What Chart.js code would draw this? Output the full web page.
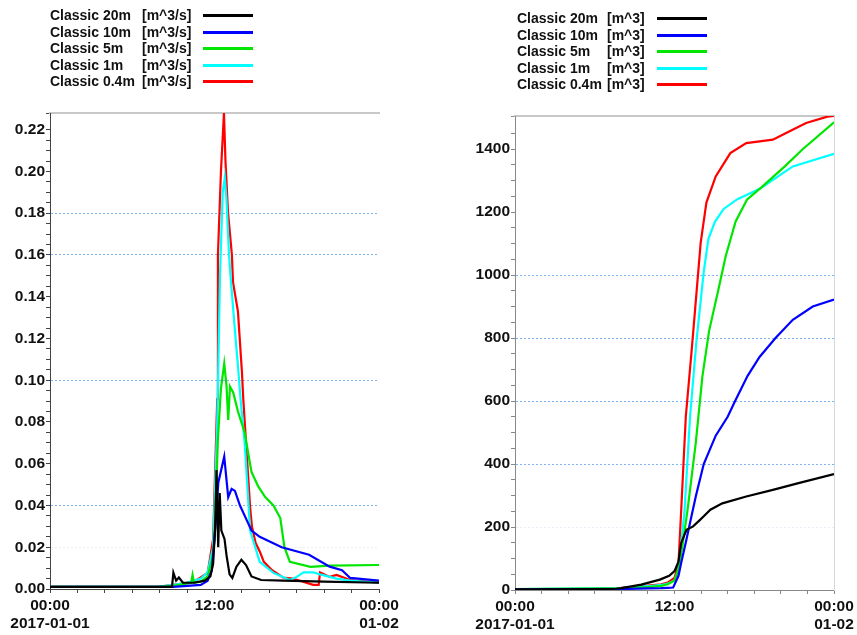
<!DOCTYPE html>
<html><head><meta charset="utf-8">
<script src="https://cdn.jsdelivr.net/npm/chart.js@4.4.1/dist/chart.umd.min.js"></script>
<style>
html,body{margin:0;padding:0;background:#fff;}
body{width:857px;height:635px;position:relative;overflow:hidden;font-family:"Liberation Sans",Arial,sans-serif;}
.box{position:absolute;top:0;height:635px;}
.legend{position:absolute;font-weight:bold;font-size:14px;color:#111;}
.row{position:absolute;left:0;height:16px;line-height:16px;white-space:nowrap;}
.row span{position:absolute;top:0;}
.row i{position:absolute;top:7px;height:3px;width:50px;}
</style></head>
<body>
<div class="box" style="left:0;width:430px"><canvas id="c1"></canvas></div>
<div class="box" style="left:460px;width:397px"><canvas id="c2"></canvas></div>
<div id="lg1" class="legend" style="left:50px;top:7px;width:220px;height:90px"></div>
<div id="lg2" class="legend" style="left:517px;top:10px;width:220px;height:90px"></div>
<script>
// ---- categories / labels ----
const seriesNames = ['Classic 20m', 'Classic 10m', 'Classic 5m', 'Classic 1m', 'Classic 0.4m'];
const unitQ = '[m^3/s]';
const unitV = '[m^3]';
const xTickLabels = {0: ['00:00', '2017-01-01'], 12: '12:00', 24: ['00:00', '01-02']};

// ---- discharge [m^3/s], time in hours from 2017-01-01 00:00 ----
const tQ20 = [0, 4, 8.9, 9.0, 9.2, 9.4, 9.7, 10.5, 11.3, 11.7, 11.9, 12.05, 12.15, 12.27, 12.38, 12.5, 12.73, 12.88, 13.1, 13.3, 13.6, 13.96, 14.3, 14.7, 15.4, 17, 20, 24];
const q20  = [0.001, 0.001, 0.001, 0.0078, 0.004, 0.0055, 0.003, 0.003, 0.004, 0.006, 0.012, 0.030, 0.057, 0.020, 0.046, 0.028, 0.024, 0.016, 0.007, 0.0053, 0.0107, 0.014, 0.0115, 0.006, 0.0043, 0.004, 0.0035, 0.003];
const tQ10 = [0, 9, 10, 11, 11.5, 11.8, 12.0, 12.28, 12.71, 12.88, 13.0, 13.25, 13.49, 13.86, 14.35, 14.7, 15.3, 16.9, 18.9, 20.4, 21.3, 21.9, 24];
const q10  = [0.001, 0.001, 0.0015, 0.002, 0.004, 0.009, 0.024, 0.051, 0.0634, 0.052, 0.044, 0.048, 0.047, 0.040, 0.033, 0.028, 0.025, 0.020, 0.0164, 0.0107, 0.009, 0.0053, 0.004];
const tQ5  = [0, 8, 9, 10.3, 10.4, 10.5, 11, 11.5, 11.85, 12.0, 12.25, 12.47, 12.71, 12.88, 13.0, 13.13, 13.37, 13.71, 14.2, 14.7, 15.2, 15.7, 16.3, 16.8, 17.1, 17.5, 19.0, 20.4, 24];
const q5   = [0.001, 0.001, 0.0015, 0.003, 0.0067, 0.003, 0.0035, 0.006, 0.015, 0.024, 0.072, 0.096, 0.108, 0.097, 0.081, 0.097, 0.094, 0.085, 0.075, 0.056, 0.049, 0.044, 0.040, 0.034, 0.020, 0.013, 0.0106, 0.0112, 0.0115];
const tQ1  = [0, 8, 9, 10, 11, 11.5, 11.9, 12.2, 12.4, 12.6, 12.75, 12.87, 13.06, 13.18, 13.5, 13.71, 13.9, 14.2, 14.6, 15.3, 16.3, 17.5, 18.0, 18.5, 19.2, 19.7, 20.9, 21.9, 24];
const q1   = [0.001, 0.0012, 0.002, 0.003, 0.005, 0.008, 0.02, 0.08, 0.15, 0.19, 0.197, 0.187, 0.16, 0.149, 0.123, 0.107, 0.091, 0.07, 0.028, 0.013, 0.0077, 0.0043, 0.0058, 0.008, 0.008, 0.007, 0.005, 0.004, 0.003];
const tQ04 = [0, 4, 8, 9, 10, 10.5, 11.5, 11.9, 12.2, 12.25, 12.47, 12.69, 12.8, 12.98, 13.27, 13.35, 13.71, 14.0, 14.1, 14.3, 14.6, 14.73, 15.0, 15.3, 15.6, 16.2, 17.0, 17.7, 19.2, 19.6, 19.7, 20.4, 20.9, 21.9, 24];
const q04  = [0.001, 0.001, 0.0012, 0.002, 0.003, 0.0035, 0.0077, 0.024, 0.091, 0.16, 0.20, 0.228, 0.205, 0.181, 0.16, 0.147, 0.133, 0.104, 0.091, 0.07, 0.039, 0.030, 0.022, 0.018, 0.013, 0.009, 0.0055, 0.005, 0.002, 0.002, 0.008, 0.0058, 0.0067, 0.0043, 0.003];

// ---- cumulative volume [m^3] ----
const tV20 = [0, 6, 7.6, 8, 9.5, 10.9, 11.6, 12.0, 12.3, 12.5, 12.9, 13.4, 13.9, 14.2, 14.7, 15.6, 17.4, 19.4, 21.4, 24];
const v20  = [2, 3, 4, 6, 17, 33, 45, 60, 90, 149, 191, 202, 222, 234, 255, 275, 297, 318, 340, 368];
const tV10 = [0, 8, 10, 11, 11.5, 11.9, 12.3, 12.5, 12.9, 13.1, 13.6, 14.2, 15.1, 16.0, 16.56, 17.5, 18.4, 19.6, 20.9, 22.4, 24];
const v10  = [2, 3, 5, 6, 7, 8, 45, 86, 160, 200, 297, 400, 490, 550, 600, 680, 740, 800, 858, 900, 922];
const tV5  = [0, 8, 10, 11, 11.5, 12, 12.3, 12.6, 13.0, 13.6, 14.1, 14.6, 15.3, 15.85, 16.6, 17.45, 18.6, 20.3, 21.6, 24];
const v5   = [3, 5, 9, 13, 18, 30, 70, 140, 260, 467, 678, 822, 953, 1060, 1170, 1239, 1281, 1345, 1398, 1485];
const tV1  = [0, 8, 10, 11, 11.5, 12, 12.3, 12.75, 13.17, 13.65, 14.2, 14.55, 15.05, 15.7, 16.7, 18.45, 20.9, 24];
const v1   = [3, 6, 12, 16, 20, 30, 60, 250, 550, 790, 1010, 1115, 1170, 1210, 1240, 1275, 1345, 1385];
const tV04 = [0, 6, 8, 10, 11, 11.5, 12, 12.3, 12.5, 12.85, 13.33, 13.97, 14.4, 15.1, 16.2, 17.4, 19.4, 20.4, 21.9, 23.5, 24];
const v04  = [3, 4, 7, 14, 18, 24, 38, 85, 250, 550, 780, 1103, 1230, 1313, 1387, 1419, 1430, 1451, 1483, 1503, 1505];

// ---- styling ----
const colors = ['#000000', '#0000ff', '#00e600', '#00ffff', '#ff0000'];
const FONT = '"Liberation Sans", Arial, sans-serif';

function pts(t, v) { return t.map((x, i) => ({x: x, y: v[i]})); }
function near(v, list, tol) { return list.some(a => Math.abs(a - v) < tol); }

function buildLegend(id, unit, unitLeft, sampleLeft) {
  const el = document.getElementById(id);
  seriesNames.forEach((n, i) => {
    const r = document.createElement('div');
    r.className = 'row';
    r.style.top = (i * 16.5) + 'px';
    r.innerHTML = '<span style="left:0">' + n + '</span><span style="left:' + unitLeft + 'px">' + unit + '</span>' +
      '<i style="left:' + sampleLeft + 'px;background:' + colors[i] + '"></i>';
    el.appendChild(r);
  });
}

function build(id, series, cfg) {
  const datasets = series.map((s, i) => ({
    label: seriesNames[i] + ' ' + cfg.unit,
    data: pts(s[0], s[1]),
    borderColor: colors[i], backgroundColor: colors[i],
    borderWidth: 2.2, pointRadius: 0, fill: false, tension: 0,
    xAxisID: 'x', yAxisID: 'y'
  }));
  const tickFont = {family: FONT, size: 15.5, weight: 'bold'};
  const scales = {
    x: {
      type: 'linear', position: 'bottom', min: 0, max: 24,
      afterFit: s => { s.height = cfg.xh; },
      ticks: {stepSize: 2, autoSkip: false, maxRotation: 0, minRotation: 0, padding: 3, color: '#111', font: tickFont,
        callback: v => (xTickLabels[v] !== undefined ? xTickLabels[v] : '')},
      grid: {drawOnChartArea: false, drawTicks: true, tickLength: 4, color: cfg.axisColor},
      border: {color: cfg.axisColor, width: 1}
    },
    xTop: {
      type: 'linear', position: 'top', min: 0, max: 24,
      afterFit: s => { s.height = 0; },
      ticks: {display: false}, grid: {display: false},
      border: {color: '#c8c8c8', width: 2}
    },
    y: {
      type: 'linear', position: 'left', min: 0, max: cfg.max,
      afterFit: s => { s.width = cfg.yw; },
      ticks: {stepSize: cfg.step, autoSkip: false, padding: 1, color: '#111', font: tickFont,
        callback: v => {
          const r = v / cfg.major;
          if (Math.abs(r - Math.round(r)) < 1e-6 && v <= cfg.max - cfg.step * 0.5) return v.toFixed(cfg.dec);
          return '';
        }},
      grid: {drawTicks: true, tickLength: 4, tickColor: cfg.axisColor, lineWidth: 1,
        color: ctx => {
          const v = ctx.tick ? ctx.tick.value : null;
          if (v === null) return 'rgba(0,0,0,0)';
          if (near(v, cfg.blue, cfg.step * 0.1)) return '#7fb3ee';
          if (near(v, cfg.faint, cfg.step * 0.1)) return '#e9eff8';
          return 'rgba(0,0,0,0)';
        }},
      border: {color: cfg.axisColor, width: 1, dash: [2, 2]}
    }
  };
  if (cfg.rightBorder) {
    scales.y2 = {
      type: 'linear', position: 'right', min: 0, max: cfg.max,
      afterFit: s => { s.width = 0; },
      ticks: {display: false}, grid: {display: false},
      border: {color: '#d8d8d8', width: 1}
    };
  }
  return new Chart(document.getElementById(id), {
    type: 'line',
    data: {datasets: datasets},
    options: {
      responsive: true, maintainAspectRatio: false, animation: false,
      layout: {padding: {top: cfg.top, right: cfg.right, left: 0, bottom: 0}},
      plugins: {legend: {display: false}, tooltip: {enabled: false}},
      scales: scales
    }
  });
}

buildLegend('lg1', unitQ, 92, 153);
buildLegend('lg2', unitV, 90, 140);

build('c1', [[tQ20, q20], [tQ10, q10], [tQ5, q5], [tQ1, q1], [tQ04, q04]], {
  unit: unitQ, max: 0.228, step: 0.005, major: 0.02, dec: 2,
  blue: [0.04, 0.10, 0.16, 0.18], faint: [0.02],
  top: 113, right: 51, xh: 46, yw: 50, axisColor: '#444', rightBorder: false
});
build('c2', [[tV20, v20], [tV10, v10], [tV5, v5], [tV1, v1], [tV04, v04]], {
  unit: unitV, max: 1505, step: 50, major: 200, dec: 0,
  blue: [400, 600, 800, 1000], faint: [200],
  top: 116, right: 23, xh: 45, yw: 55, axisColor: '#888', rightBorder: true
});
</script>
</body></html>
